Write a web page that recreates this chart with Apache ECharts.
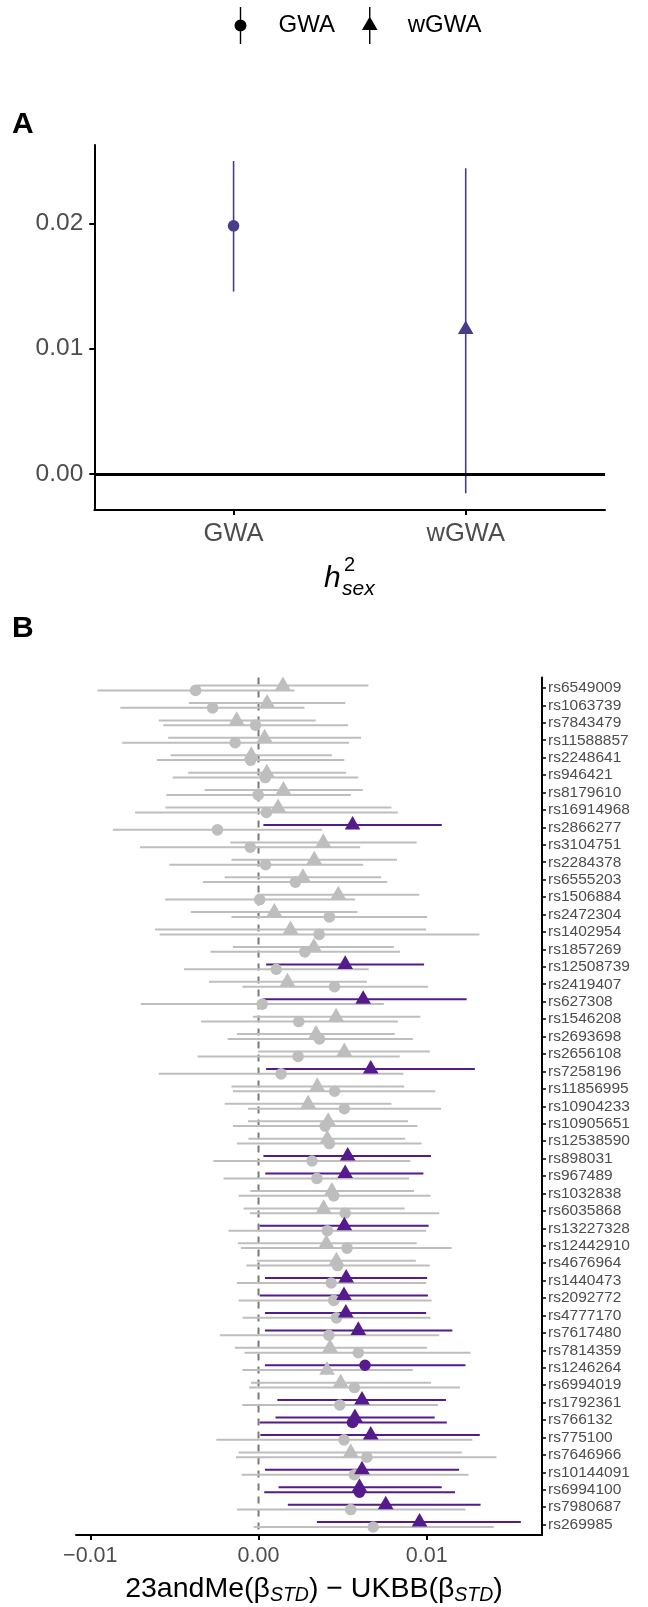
<!DOCTYPE html>
<html>
<head>
<meta charset="utf-8">
<script src="https://cdn.jsdelivr.net/npm/echarts@6/dist/echarts.min.js"></script>
<style>
  html, body { margin: 0; padding: 0; background: #ffffff; }
  #chart { width: 648px; height: 1607px; }
</style>
</head>
<body>
<div id="chart"></div>
<script>
// ---- Panel A: sex-differential heritability by method ----
const methods = ['GWA', 'wGWA'];
const h2Est = [0.01980, 0.01152];
const h2Lo  = [0.01455, -0.00154];
const h2Hi  = [0.02497, 0.02440];

// ---- Panel B: per-SNP difference 23andMe - UKBB ----
const snps = [
  'rs6549009', 'rs1063739', 'rs7843479', 'rs11588857', 'rs2248641', 'rs946421', 'rs8179610',
  'rs16914968', 'rs2866277', 'rs3104751', 'rs2284378', 'rs6555203', 'rs1506884', 'rs2472304',
  'rs1402954', 'rs1857269', 'rs12508739', 'rs2419407', 'rs627308', 'rs1546208', 'rs2693698',
  'rs2656108', 'rs7258196', 'rs11856995', 'rs10904233', 'rs10905651', 'rs12538590', 'rs898031',
  'rs967489', 'rs1032838', 'rs6035868', 'rs13227328', 'rs12442910', 'rs4676964', 'rs1440473',
  'rs2092772', 'rs4777170', 'rs7617480', 'rs7814359', 'rs1246264', 'rs6994019', 'rs1792361',
  'rs766132', 'rs775100', 'rs7646966', 'rs10144091', 'rs6994100', 'rs7980687', 'rs269985'
];

const gwaEst = [
  -0.00374, -0.00273, -0.00018, -0.00139, -0.00047, 0.00040, -0.00002,
  0.00047, -0.00244, -0.00049, 0.00042, 0.00219, 0.00007, 0.00421,
  0.00360, 0.00275, 0.00105, 0.00452, 0.00022, 0.00239, 0.00362,
  0.00235, 0.00134, 0.00452, 0.00510, 0.00396, 0.00421, 0.00318,
  0.00347, 0.00447, 0.00515, 0.00409, 0.00526, 0.00470, 0.00432,
  0.00447, 0.00463, 0.00418, 0.00593, 0.00633, 0.00570, 0.00483,
  0.00559, 0.00508, 0.00644, 0.00570, 0.00600, 0.00548, 0.00682
];
const gwaLo = [
  -0.00957, -0.00821, -0.00566, -0.00810, -0.00604, -0.00510, -0.00548,
  -0.00734, -0.00866, -0.00705, -0.00530, -0.00331, -0.00555, -0.00161,
  -0.00588, -0.00286, -0.00443, -0.00096, -0.00700, -0.00342, -0.00183,
  -0.00362, -0.00593, -0.00152, -0.00063, -0.00152, -0.00128, -0.00268,
  -0.00208, -0.00119, -0.00051, -0.00179, -0.00105, -0.00072, -0.00128,
  -0.00119, -0.00094, -0.00230, -0.00083, 0.00038, -0.00056, -0.00096,
  0.00007, -0.00251, -0.00134, -0.00101, 0.00034, -0.00128, -0.00029
];
const gwaHi = [
  0.00213, 0.00273, 0.00532, 0.00537, 0.00510, 0.00593, 0.00548,
  0.00828, 0.00376, 0.00604, 0.00622, 0.00765, 0.00573, 0.01002,
  0.01313, 0.00841, 0.00655, 0.01007, 0.00745, 0.00828, 0.00917,
  0.00839, 0.00861, 0.01051, 0.01085, 0.00944, 0.00969, 0.00902,
  0.00895, 0.01022, 0.01074, 0.00996, 0.01148, 0.01018, 0.00996,
  0.01029, 0.01022, 0.01074, 0.01260, 0.01230, 0.01197, 0.01067,
  0.01119, 0.01271, 0.01414, 0.01248, 0.01168, 0.01230, 0.01398
];

const wgwaEst = [
  0.00145, 0.00051, -0.00130, 0.00036, -0.00043, 0.00049, 0.00148,
  0.00116, 0.00559, 0.00385, 0.00331, 0.00264, 0.00474, 0.00094,
  0.00190, 0.00329, 0.00515, 0.00172, 0.00622, 0.00461, 0.00342,
  0.00510, 0.00667, 0.00349, 0.00295, 0.00414, 0.00409, 0.00530,
  0.00515, 0.00436, 0.00387, 0.00510, 0.00403, 0.00463, 0.00521,
  0.00508, 0.00519, 0.00593, 0.00425, 0.00407, 0.00488, 0.00615,
  0.00573, 0.00667, 0.00548, 0.00615, 0.00600, 0.00756, 0.00957
];
const wgwaLo = [
  -0.00369, -0.00414, -0.00593, -0.00537, -0.00523, -0.00418, -0.00320,
  -0.00553, 0.00029, -0.00168, -0.00161, -0.00201, -0.00008, -0.00403,
  -0.00615, -0.00152, 0.00045, -0.00295, 0.00027, -0.00034, -0.00128,
  -0.00005, 0.00045, -0.00161, -0.00201, -0.00063, -0.00060, 0.00029,
  0.00040, -0.00049, -0.00089, 0.00007, -0.00123, -0.00008, 0.00038,
  0.00007, 0.00038, 0.00038, -0.00141, -0.00096, -0.00045, 0.00112,
  0.00101, 0.00011, -0.00119, 0.00038, 0.00119, 0.00174, 0.00347
];
const wgwaHi = [
  0.00653, 0.00515, 0.00340, 0.00609, 0.00436, 0.00521, 0.00620,
  0.00790, 0.01089, 0.00940, 0.00823, 0.00729, 0.00955, 0.00588,
  0.00996, 0.00805, 0.00984, 0.00644, 0.01237, 0.00962, 0.00810,
  0.01018, 0.01286, 0.00866, 0.00790, 0.00888, 0.00872, 0.01025,
  0.00980, 0.00924, 0.00868, 0.01011, 0.00940, 0.00935, 0.01002,
  0.01007, 0.00996, 0.01152, 0.01002, 0.00917, 0.01025, 0.01114,
  0.01047, 0.01315, 0.01208, 0.01192, 0.01089, 0.01320, 0.01559
];

// Axis ticks
const h2Ticks = [0, 0.01, 0.02];
const diffTicks = [-0.01, 0, 0.01];

// ---- styling ----
const FONT = '"Liberation Sans", Arial, Helvetica, sans-serif';
const GREY = '#bebebe';
const PURPLE = '#551a8b';
const SLATE = '#483d8b';
const TEXT = '#4d4d4d';
const MARK = 5.8;          // marker radius unit (px)
const DODGE = 0.14;        // vertical dodge, in row units
const B_MIN = -0.6, B_MAX = snps.length - 1 + 0.6;

function triangle(cx, cy, a) {
  // equilateral triangle with its centroid on the point
  return [[cx, cy - 1.555 * a], [cx + 1.347 * a, cy + 0.778 * a], [cx - 1.347 * a, cy + 0.778 * a]];
}
function marker(kind, cx, cy, color) {
  if (kind === 1) return { type: 'polygon', shape: { points: triangle(cx, cy, MARK) }, style: { fill: color } };
  return { type: 'circle', shape: { cx: cx, cy: cy, r: MARK }, style: { fill: color } };
}

// ---- panel B layout: significance colouring and dodge order ----
const items = [];
snps.forEach(function (name, i) {
  const pair = [
    { row: i, kind: 0, est: gwaEst[i], lo: gwaLo[i], hi: gwaHi[i] },
    { row: i, kind: 1, est: wgwaEst[i], lo: wgwaLo[i], hi: wgwaHi[i] }
  ];
  pair.forEach(function (d) {
    d.sig = (d.lo > 0 || d.hi < 0) ? 1 : 0;
    d.key = d.sig * 2 + d.kind;
  });
  pair.sort(function (a, b) { return a.key - b.key; });
  pair[0].y = i + DODGE;   // first group sits lower
  pair[1].y = i - DODGE;
  items.push(pair[0], pair[1]);
});
items.sort(function (a, b) { return a.key - b.key; });
const bData = items.map(function (d) { return [d.est, d.y, d.lo, d.hi, d.sig, d.kind]; });
const rowIdx = snps.map(function (_, i) { return i; });

function h2Series(k) {
  return {
    name: methods[k],
    type: 'custom',
    xAxisIndex: 0, yAxisIndex: 0,
    z: 3,
    data: [[k, h2Est[k], h2Lo[k], h2Hi[k]]],
    encode: { x: 0, y: [1, 2, 3] },
    renderItem: function (params, api) {
      const x = api.value(0);
      const p = api.coord([x, api.value(1)]);
      const lo = api.coord([x, api.value(2)]);
      const hi = api.coord([x, api.value(3)]);
      return {
        type: 'group',
        children: [
          { type: 'line', shape: { x1: lo[0], y1: lo[1], x2: hi[0], y2: hi[1] }, style: { stroke: SLATE, lineWidth: 1.6 } },
          marker(k, p[0], p[1], SLATE)
        ]
      };
    }
  };
}

const option = {
  animation: false,
  backgroundColor: '#ffffff',
  textStyle: { fontFamily: FONT },
  legend: {
    top: 2,
    left: 229.5,
    itemWidth: 16,
    itemHeight: 37,
    itemGap: 27,
    symbolKeepAspect: true,
    selectedMode: false,
    data: [
      { name: 'GWA', icon: 'path://M7.3,0H8.7V37H7.3Z M2,18.5A6,6 0 1,1 14,18.5A6,6 0 1,1 2,18.5Z', itemStyle: { color: '#000' } },
      { name: 'wGWA', icon: 'path://M7.3,0H8.7V37H7.3Z M8,9.5L15.8,23L0.2,23Z', itemStyle: { color: '#000' } }
    ],
    formatter: function (n) { return '{g| }' + n; },
    textStyle: { fontSize: 24, color: '#000', fontFamily: FONT, rich: { g: { width: 25 } } }
  },
  grid: [
    { left: 94.3, top: 145, width: 510.7, height: 365 },
    { left: 76, top: 677.5, width: 466, height: 857.5 }
  ],
  xAxis: [
    {
      gridIndex: 0, type: 'value', min: -0.6, max: 1.6,
      axisLine: { show: true, onZero: false, lineStyle: { color: '#000', width: 2 } },
      axisTick: { show: true, customValues: [0, 1], length: 5, lineStyle: { color: '#000', width: 2 } },
      axisLabel: { customValues: [0, 1], formatter: function (v) { return methods[Math.round(v)]; },
        fontSize: 25.5, color: TEXT, margin: 11, fontFamily: FONT },
      splitLine: { show: false }
    },
    {
      gridIndex: 1, type: 'value', min: -0.01085, max: 0.01685,
      axisLine: { show: true, onZero: false, lineStyle: { color: '#000', width: 2 } },
      axisTick: { show: true, customValues: diffTicks, length: 5, lineStyle: { color: '#000', width: 2 } },
      axisLabel: { customValues: diffTicks,
        formatter: function (v) { return (v < 0 ? '\u2212' : '') + Math.abs(v).toFixed(2); },
        fontSize: 21.5, color: TEXT, margin: 10, fontFamily: FONT },
      splitLine: { show: false }
    }
  ],
  yAxis: [
    {
      gridIndex: 0, type: 'value', min: -0.002872, max: 0.026246,
      axisLine: { show: true, onZero: false, lineStyle: { color: '#000', width: 2 } },
      axisTick: { show: true, customValues: h2Ticks, length: 5, lineStyle: { color: '#000', width: 2 } },
      axisLabel: { customValues: h2Ticks, formatter: function (v) { return v.toFixed(2); },
        fontSize: 24.5, color: TEXT, margin: 11, fontFamily: FONT },
      splitLine: { show: false }
    },
    {
      gridIndex: 1, type: 'value', inverse: true, min: B_MIN, max: B_MAX, position: 'right',
      axisLine: { show: true, onZero: false, lineStyle: { color: '#000', width: 2 } },
      axisTick: { show: true, customValues: rowIdx, length: 4, lineStyle: { color: '#000', width: 1.5 } },
      axisLabel: { customValues: rowIdx, formatter: function (v) { return snps[Math.round(v)]; },
        fontSize: 15.5, color: TEXT, margin: 6, fontFamily: FONT },
      splitLine: { show: false }
    }
  ],
  series: [
    h2Series(0),
    Object.assign(h2Series(1), {
      markLine: {
        silent: true, symbol: ['none', 'none'], label: { show: false },
        lineStyle: { color: '#000', width: 3, type: 'solid' },
        data: [{ yAxis: 0 }]
      }
    }),
    {
      // dashed reference line at zero difference
      name: 'zero',
      type: 'custom',
      xAxisIndex: 1, yAxisIndex: 1,
      z: 1,
      data: [[0]],
      renderItem: function (params, api) {
        const a = api.coord([api.value(0), B_MIN]);
        const b = api.coord([api.value(0), B_MAX]);
        return { type: 'line', shape: { x1: a[0], y1: a[1], x2: b[0], y2: b[1] },
          style: { stroke: '#7a7a7a', lineWidth: 2, lineDash: [7, 6] } };
      }
    },
    {
      name: 'ranges',
      type: 'custom',
      xAxisIndex: 1, yAxisIndex: 1,
      z: 2,
      data: bData,
      encode: { x: [0, 2, 3], y: 1 },
      renderItem: function (params, api) {
        const y = api.value(1);
        const a = api.coord([api.value(2), y]);
        const b = api.coord([api.value(3), y]);
        return { type: 'line', shape: { x1: a[0], y1: a[1], x2: b[0], y2: b[1] },
          style: { stroke: api.value(4) ? PURPLE : GREY, lineWidth: 2 } };
      }
    },
    {
      name: 'points',
      type: 'custom',
      xAxisIndex: 1, yAxisIndex: 1,
      z: 3,
      data: bData,
      encode: { x: 0, y: 1 },
      renderItem: function (params, api) {
        const p = api.coord([api.value(0), api.value(1)]);
        return marker(api.value(5), p[0], p[1], api.value(4) ? PURPLE : GREY);
      }
    }
  ],
  graphic: [
    { type: 'text', x: 12, y: 125, style: { text: 'A', fontSize: 30, fontWeight: 'bold', fontFamily: FONT, fill: '#000', verticalAlign: 'middle' } },
    { type: 'text', x: 12, y: 629, style: { text: 'B', fontSize: 30, fontWeight: 'bold', fontFamily: FONT, fill: '#000', verticalAlign: 'middle' } },
    { type: 'text', x: 324, y: 579, style: { text: 'h', fontSize: 30, fontStyle: 'italic', fontFamily: FONT, fill: '#000', verticalAlign: 'middle' } },
    { type: 'text', x: 344, y: 565, style: { text: '2', fontSize: 20, fontFamily: FONT, fill: '#000', verticalAlign: 'middle' } },
    { type: 'text', x: 342, y: 589, style: { text: 'sex', fontSize: 21, fontStyle: 'italic', fontFamily: FONT, fill: '#000', verticalAlign: 'middle' } },
    { type: 'text', x: 314, y: 1589, style: {
        text: '23andMe(\u03b2{s|STD}) \u2212 UKBB(\u03b2{s|STD})',
        fontSize: 28.5, lineHeight: 34, fontFamily: FONT, fill: '#000', align: 'center', verticalAlign: 'middle',
        rich: { s: { fontSize: 19.5, lineHeight: 19.5, fontStyle: 'italic', fontFamily: FONT, fill: '#000', verticalAlign: 'bottom' } }
      } }
  ]
};

const chart = echarts.init(document.getElementById('chart'), null, { renderer: 'canvas' });
chart.setOption(option);
</script>
</body>
</html>
